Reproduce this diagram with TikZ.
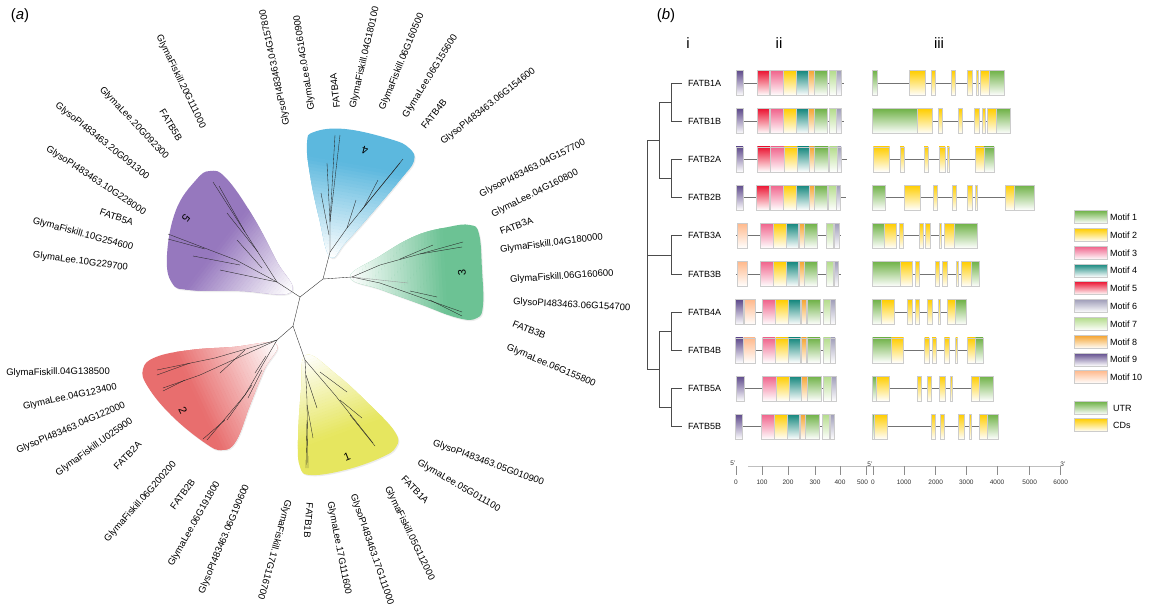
\documentclass[tikz,border=0pt]{standalone}
\usepackage{fontspec}
\setmainfont{Liberation Sans}
\usetikzlibrary{shadows}
\definecolor{m1}{RGB}{112,178,72}
\definecolor{m2}{RGB}{255,205,0}
\definecolor{m3}{RGB}{240,100,140}
\definecolor{m4}{RGB}{20,135,125}
\definecolor{m5}{RGB}{235,20,50}
\definecolor{m6}{RGB}{160,158,185}
\definecolor{m7}{RGB}{180,220,140}
\definecolor{m8}{RGB}{245,165,50}
\definecolor{m9}{RGB}{95,75,140}
\definecolor{m10}{RGB}{255,185,140}
\definecolor{cP}{RGB}{150,120,190}
\definecolor{cB}{RGB}{92,184,222}
\definecolor{cG}{RGB}{108,194,148}
\definecolor{cR}{RGB}{232,110,110}
\definecolor{cY}{RGB}{230,230,95}
\tikzset{
 lab/.style={font=\fontsize{9.5}{10}\selectfont, inner sep=0pt},
 labo/.style={lab, anchor=west},
 labi/.style={lab, anchor=east},
 br/.style={line width=0.35pt, black!85},
 clnum/.style={font=\fontsize{11}{12}\selectfont, inner sep=0pt},
 blob/.style={drop shadow={shadow xshift=1pt, shadow yshift=-1.2pt, opacity=0.15}},
 rtree/.style={line width=0.8pt, black!70},
 rowlab/.style={font=\fontsize{9}{10}\selectfont, anchor=west, inner sep=0pt},
 gline/.style={line width=0.7pt, black!55},
 leg/.style={font=\fontsize{9}{10}\selectfont, anchor=west, inner sep=0pt},
 ax/.style={font=\fontsize{6.5}{7}\selectfont, inner sep=0pt, text=black!80},
 head/.style={font=\fontsize{15}{16}\selectfont, inner sep=0pt},
 boxe/.style={draw=black!20, line width=0.5pt},
}
\newcommand\MotBox[4]{\shade[boxe, top color=#4, bottom color=white] (#1,#3-12.5) rectangle (#2,#3+12.5);}
% #1 colour, #2 apex, #3 outward angle, #4 fade length (pt), #5 outline points
\newcommand\CladeBlob[5]{%
 \fill[blob, #1] plot[smooth cycle, tension=0.7] coordinates {#5};
 \begin{scope}
  \clip plot[smooth cycle, tension=0.7] coordinates {#5};
  \begin{scope}[shift={#2}, rotate=#3-90]
   \fill[white] ({-250pt},{-60pt}) rectangle ({250pt},{0pt});
   \foreach \i in {0,...,29} {
     \pgfmathsetmacro\pc{100*((\i+0.5)/30)}
     \fill[#1!\pc!white] ({-250pt},{\i*#4/30*1pt}) rectangle ({250pt},{(\i+1)*#4/30*1pt+0.4pt});
   }
  \end{scope}
 \end{scope}}
\begin{document}
\begin{tikzpicture}[x=1pt,y=-1pt]
\useasboundingbox (0,0) rectangle (1157,614);
\fill[white] (0,0) rectangle (1157,614);

% ---------------- (a) radial tree ----------------
\node[head] (ha) at (20,16) {(\textit{a})};

\CladeBlob{cP}{(291,292)}{142}{85}{(291,292) (240,291) (190,290) (172,283) (167,255) (176,210) (196,180) (210,171) (226,178) (252,215) (276,260)}
\CladeBlob{cB}{(330,257)}{80}{95}{(330,257) (319,218) (310,175) (307,143) (314,132) (345,129) (390,139) (409,148) (414,161) (400,180) (372,213) (346,242)}
\CladeBlob{cG}{(350,277)}{3}{95}{(350,277) (380,256) (415,236) (448,227) (470,225) (479,234) (482,270) (483,305) (477,318) (458,318) (420,304) (382,290)}
\CladeBlob{cR}{(276,344)}{205}{95}{(276,344) (232,347) (190,350) (156,357) (143,369) (148,387) (172,416) (205,443) (222,450) (236,441) (250,405) (264,370)}
\CladeBlob{cY}{(306,355)}{-70}{85}{(306,355) (301,390) (298,440) (300,467) (311,475) (345,470) (380,458) (396,447) (395,432) (370,405) (336,374)}

\coordinate (c0) at (300,297);
\coordinate (c1) at (293,326);
\coordinate (c2) at (323,279);
\coordinate (b5) at (277,282);
\coordinate (b4) at (330,252);
\coordinate (b3) at (352,277);
\coordinate (b2) at (277,340);
\coordinate (b1) at (305,360);
\draw[br] (c0) -- (c1);
\draw[br] (c0) -- (b5);
\draw[br] (c0) -- (c2);
\draw[br] (c2) -- (b4);
\draw[br] (c2) -- (b3);
\draw[br] (c1) -- (b2);
\draw[br] (c1) -- (b1);
% clade 5
\draw[br] (b5) -- (245,232) -- (213,182);
\draw[br] (245,232) -- (219,186);
\draw[br] (258,252) -- (227,213);
\draw[br] (b5) -- (236,260) -- (168,234);
\draw[br] (205,249) -- (168,239);
\draw[br] (240,265) -- (193,256);
\draw[br] (b5) -- (220,270);
\draw[br] (262,268) -- (237,240);
% clade 4
\draw[br] (b4) -- (330,222) -- (335,135);
\draw[br] (330,222) -- (340,135);
\draw[br] (330,222) -- (327,163);
\draw[br] (329,235) -- (321,193);
\draw[br] (b4) -- (347,228) -- (403,159);
\draw[br] (360,212) -- (400,163);
\draw[br] (364,207) -- (378,180);
\draw[br] (347,228) -- (356,200);
% clade 3
\draw[br] (b3) -- (380,265) -- (463,242);
\draw[br] (420,254) -- (462,247);
\draw[br] (400,259) -- (433,245);
\draw[br] (b3) -- (380,283) -- (462,312);
\draw[br] (430,300) -- (462,316);
\draw[br] (410,291) -- (437,297);
\draw[br, black!40] (b3) -- (408,283);
% clade 2
\draw[br] (b2) -- (215,358) -- (157,370);
\draw[br] (190,363) -- (157,375);
\draw[br] (b2) -- (200,375) -- (163,388);
\draw[br] (185,380) -- (163,391);
\draw[br] (245,350) -- (220,373);
\draw[br] (b2) -- (245,395) -- (207,440);
\draw[br] (225,420) -- (203,439);
\draw[br] (252,385) -- (227,420);
\draw[br] (262,370) -- (248,398);
\draw[br] (266,356) -- (255,373);
% clade 1
\draw[br] (b1) -- (307,400) -- (308,468);
\draw[br] (307,420) -- (306,468);
\draw[br] (306,375) -- (317,408);
\draw[br] (307,405) -- (313,438);
\draw[br] (b1) -- (335,395) -- (373,443);
\draw[br] (350,415) -- (375,446);
\draw[br] (340,400) -- (362,418);
\draw[br] (320,372) -- (347,392);

\node[clnum, rotate=-128] (n5) at (186,218) {5};
\node[clnum, rotate=165] (n4) at (365,150) {4};
\node[clnum, rotate=93] (n3) at (462,273) {3};
\node[clnum, rotate=-63] (n2) at (183,410) {2};
\node[clnum, rotate=22] (n1) at (347,457) {1};

% clade 5 labels
\node[labi, rotate=-64.2] (l1) at (203,128) {GlymaFiskill.20G111000};
\node[labi, rotate=-58.8] (l2) at (180,140) {FATB5B};
\node[labi, rotate=-46.6] (l3) at (167,158) {GlymaLee.20G092300};
\node[labi, rotate=-38.7] (l4) at (148,178) {GlysoPI483463.20G091300};
\node[labi, rotate=-33.4] (l5) at (145,213) {GlysoPI483463.10G228000};
\node[labi, rotate=-19.5] (l6) at (133,223) {FATB5A};
\node[labi, rotate=-15.2] (l7) at (133,248) {GlymaFiskill.10G254600};
\node[labi, rotate=-7.6] (l8) at (128,268) {GlymaLee.10G229700};
% clade 4 labels
\node[labo, rotate=101.8] (l9) at (287,125) {GlysoPI483463.04G157800};
\node[labo, rotate=99] (l10) at (312,110) {GlymaLee.04G160900};
\node[labo, rotate=96.5] (l11) at (337,108) {FATB4A};
\node[labo, rotate=76.9] (l12) at (353,108) {GlymaFiskill.04G180100};
\node[labo, rotate=67.6] (l13) at (382,110) {GlymaFiskill.06G160500};
\node[labo, rotate=58.2] (l14) at (405,117) {GlymaLee.06G155600};
\node[labo, rotate=51.3] (l15) at (423,128) {FATB4B};
\node[labo, rotate=38.3] (l16) at (442,143) {GlysoPI483463.06G154600};
% clade 3 labels
\node[labo, rotate=26.8] (l17) at (480,195) {GlysoPI483463.04G157700};
\node[labo, rotate=26.6] (l18) at (492,215) {GlymaLee.04G160800};
\node[labo, rotate=20.6] (l19) at (500,232) {FATB3A};
\node[labo, rotate=7.1] (l20) at (500,250) {GlymaFiskill.04G180000};
\node[labo, rotate=3.7] (l21) at (510,280) {GlymaFiskill.06G160600};
\node[labo, rotate=-3] (l22) at (513,302) {GlysoPI483463.06G154700};
\node[labo, rotate=-22.4] (l23) at (513,323) {FATB3B};
\node[labo, rotate=-23.2] (l24) at (507,347) {GlymaLee.06G155800};
% clade 1 labels
\node[labo, rotate=-20] (l25) at (433,443) {GlysoPI483463.05G010900};
\node[labo, rotate=-30.4] (l26) at (418,462) {GlymaLee.05G011100};
\node[labo, rotate=-46] (l27) at (403,477) {FATB1A};
\node[labo, rotate=-64.2] (l28) at (387,487) {GlymaFiskill.05G112000};
\node[labo, rotate=-71] (l29) at (353,495) {GlysoPI483463.17G111000};
\node[labo, rotate=-79] (l30) at (330,502) {GlymaLee.17G111600};
\node[labo, rotate=-95] (l31) at (310,503) {FATB1B};
\node[labo, rotate=-105.6] (l32) at (288,500) {GlymaFiskill.17G116700};
% clade 2 labels
\node[labi, rotate=67.2] (l33) at (247,485) {GlysoPI483463.06G190600};
\node[labi, rotate=60.5] (l34) at (218,482) {GlymaLee.06G191800};
\node[labi, rotate=53.5] (l35) at (193,480) {FATB2B};
\node[labi, rotate=48.5] (l36) at (175,463) {GlymaFiskill.06G200200};
\node[labi, rotate=45] (l37) at (140,443) {FATB2A};
\node[labi, rotate=35.8] (l38) at (132,420) {GlymaFiskill.U025900};
\node[labi, rotate=23.2] (l39) at (125,405) {GlysoPI483463.04G122000};
\node[labi, rotate=12.2] (l40) at (117,387) {GlymaLee.04G123400};
\node[labi, rotate=0.5] (l41) at (110,372) {GlymaFiskill.04G138500};

% ---------------- (b) ----------------
\node[head] (hb) at (666,16) {(\textit{b})};
\node[head] (hi) at (688,43) {i};
\node[head] (hii) at (779,43) {ii};
\node[head] (hiii) at (939,43) {iii};

% row tree
\draw[rtree] (682,83) -- (671,83) -- (671,121.2) -- (682,121.2);
\draw[rtree] (682,159.4) -- (671,159.4) -- (671,197.6) -- (682,197.6);
\draw[rtree] (671,102) -- (659,102) -- (659,178.5) -- (671,178.5);
\draw[rtree] (682,235.8) -- (671,235.8) -- (671,274) -- (682,274);
\draw[rtree] (682,312.2) -- (671,312.2) -- (671,350.4) -- (682,350.4);
\draw[rtree] (682,388.6) -- (671,388.6) -- (671,426.8) -- (682,426.8);
\draw[rtree] (671,331.3) -- (659,331.3) -- (659,407.7) -- (671,407.7);
\draw[rtree] (659,140) -- (647,140) -- (647,369.5) -- (659,369.5);
\draw[rtree] (647,255) -- (671,255);

\node[rowlab] (r1) at (688,83) {FATB1A};
\node[rowlab] (r2) at (688,121.2) {FATB1B};
\node[rowlab] (r3) at (688,159.4) {FATB2A};
\node[rowlab] (r4) at (688,197.6) {FATB2B};
\node[rowlab] (r5) at (688,235.8) {FATB3A};
\node[rowlab] (r6) at (688,274) {FATB3B};
\node[rowlab] (r7) at (688,312.2) {FATB4A};
\node[rowlab] (r8) at (688,350.4) {FATB4B};
\node[rowlab] (r9) at (688,388.6) {FATB5A};
\node[rowlab] (r10) at (688,426.8) {FATB5B};

% motifs (ii)
\draw[gline] (736,83) -- (844,83);
\foreach \a/\b/\c in {736/743/m9,757/769.3/m5,770/783.3/m3,783.3/796.7/m2,796.7/808.3/m4,808.3/814/m8,814/827.7/m1,829/836/m7,836.7/841/m6} {\MotBox{\a}{\b}{83}{\c}}
\draw[gline] (736,121.2) -- (844,121.2);
\foreach \a/\b/\c in {736/743/m9,757/769.3/m5,770/783.3/m3,783.3/796.7/m2,796.7/808.3/m4,808.3/814/m8,814/827.7/m1,829/836/m7,836.7/841/m6} {\MotBox{\a}{\b}{121.2}{\c}}
\draw[gline] (736,159.4) -- (847,159.4);
\foreach \a/\b/\c in {736/743/m9,757.3/770/m5,770.7/784/m3,784/797.3/m2,797.3/809.3/m4,809.3/814.3/m8,814.3/828.3/m1,829.3/837.3/m7,837.3/841/m6} {\MotBox{\a}{\b}{159.4}{\c}}
\draw[gline] (736,197.6) -- (846,197.6);
\foreach \a/\b/\c in {736/743/m9,756.7/769.3/m5,770/783.3/m3,783.3/796.7/m2,796.7/809/m4,809/814/m8,814/827.3/m1,828.7/836/m7,836.7/840.7/m6} {\MotBox{\a}{\b}{197.6}{\c}}
\draw[gline] (736,235.8) -- (841,235.8);
\foreach \a/\b/\c in {737.3/747.7/m10,760/773.3/m3,773.3/786.7/m2,786.7/798.3/m4,799/804/m8,804.7/817.3/m1,826/833.3/m7,834.7/839/m6} {\MotBox{\a}{\b}{235.8}{\c}}
\draw[gline] (736,274) -- (841,274);
\foreach \a/\b/\c in {737.3/747.7/m10,760/773.3/m3,773.3/786.7/m2,786.7/798.3/m4,799/804/m8,804.7/817.3/m1,826/833.3/m7,834/838.3/m6} {\MotBox{\a}{\b}{274}{\c}}
\draw[gline] (736,312.2) -- (836,312.2);
\foreach \a/\b/\c in {735.7/743.3/m9,744/755/m10,762/775/m3,775/788.3/m2,788.3/800.7/m4,801.3/806.7/m8,807.3/820/m1,823.3/830/m7,830.7/835/m6} {\MotBox{\a}{\b}{312.2}{\c}}
\draw[gline] (736,350.4) -- (836,350.4);
\foreach \a/\b/\c in {735.7/743/m9,743.7/755/m10,762.7/775/m3,775.7/788.3/m2,788.3/800.7/m4,801.3/806.7/m8,807.3/820/m1,823.3/830.7/m7,830.7/835/m6} {\MotBox{\a}{\b}{350.4}{\c}}
\draw[gline] (736,388.6) -- (837,388.6);
\foreach \a/\b/\c in {736.7/744/m9,762.7/776/m3,776/789.3/m2,789.3/801/m4,801.7/807.3/m8,807.7/821/m1,823.3/831/m7,831.7/836/m6} {\MotBox{\a}{\b}{388.6}{\c}}
\draw[gline] (736,426.8) -- (834,426.8);
\foreach \a/\b/\c in {735.7/742.7/m9,761/774.3/m3,774.3/787.7/m2,787.7/799.3/m4,800/805.7/m8,805.7/819/m1,822/829.3/m7,830/834/m6} {\MotBox{\a}{\b}{426.8}{\c}}

% gene structures (iii)
\draw[gline] (877,83) -- (1004,83);
\foreach \a/\b/\c in {872.7/877.7/m1,909.3/925.7/m2,931/935/m2,951/955/m2,967/972.7/m2,976/978/m2,980/989.3/m2,989.3/1004.3/m1} {\MotBox{\a}{\b}{83}{\c}}
\draw[gline] (873,121.2) -- (1011,121.2);
\foreach \a/\b/\c in {872.7/917.7/m1,917.7/932.7/m2,938/942.7/m2,958.3/962/m2,974/979.7/m2,982.7/985.3/m2,987.3/996/m2,996/1010/m1} {\MotBox{\a}{\b}{121.2}{\c}}
\draw[gline] (873,159.4) -- (995,159.4);
\foreach \a/\b/\c in {873.3/889.7/m2,900/904/m2,924/928/m2,939/945/m2,947/949.3/m2,975/984/m2,984/994/m1} {\MotBox{\a}{\b}{159.4}{\c}}
\draw[gline] (873,197.6) -- (1034,197.6);
\foreach \a/\b/\c in {872.7/885.3/m1,904.3/920.3/m2,933/937.3/m2,952/956/m2,967/972.7/m2,975/977.7/m2,1005.3/1014.3/m2,1014.3/1034.7/m1} {\MotBox{\a}{\b}{197.6}{\c}}
\draw[gline] (873,235.8) -- (977,235.8);
\foreach \a/\b/\c in {872.7/884.3/m1,884.3/896.3/m2,899/903.3/m2,919/923/m2,925.3/930.7/m2,939/941.3/m2,944.3/954.3/m2,954.3/977.3/m1} {\MotBox{\a}{\b}{235.8}{\c}}
\draw[gline] (873,274) -- (980,274);
\foreach \a/\b/\c in {872.7/900.7/m1,900.7/912.3/m2,915/919.7/m2,935.3/939.3/m2,942/947.7/m2,956/958.7/m2,961/971/m2,971/979.3/m1} {\MotBox{\a}{\b}{274}{\c}}
\draw[gline] (873,312.2) -- (967,312.2);
\foreach \a/\b/\c in {872.7/881.7/m1,881.7/894.3/m2,907.7/912.3/m2,915.3/919.7/m2,927/932.7/m2,938/940.3/m2,947.3/955.7/m2,955.7/966.7/m1} {\MotBox{\a}{\b}{312.2}{\c}}
\draw[gline] (873,350.4) -- (984,350.4);
\foreach \a/\b/\c in {872.7/891.7/m1,891.7/903.7/m2,924.7/929/m2,932/936/m2,944.3/949.7/m2,955.7/957.7/m2,967.3/975.3/m2,975.3/983/m1} {\MotBox{\a}{\b}{350.4}{\c}}
\draw[gline] (873,388.6) -- (994,388.6);
\foreach \a/\b/\c in {872.7/876/m1,876/889.3/m2,917/921.3/m2,927/931/m2,939.3/945/m2,950/952/m2,971.3/979.3/m2,979.3/993/m1} {\MotBox{\a}{\b}{388.6}{\c}}
\draw[gline] (873,426.8) -- (999,426.8);
\foreach \a/\b/\c in {872.7/874.7/m1,874.7/887/m2,931/935/m2,940.3/944.3/m2,958.3/964/m2,969/971.3/m2,979/987.3/m2,987.3/998.7/m1} {\MotBox{\a}{\b}{426.8}{\c}}

% legend
\foreach \k/\y in {1/217,2/235,3/253,4/270.5,5/288,6/306,7/324,8/342,9/359.5,10/377} {
  \shade[boxe, top color=m\k, bottom color=white] (1074,\y-6.5) rectangle (1107,\y+6.5);
  \node[leg] at (1110,\y) {Motif \k};
}
\shade[boxe, top color=m1, bottom color=white] (1074,408-6.5) rectangle (1107,408+6.5);
\node[leg] (lutr) at (1113,408) {UTR};
\shade[boxe, top color=m2, bottom color=white] (1074,425-6.5) rectangle (1107,425+6.5);
\node[leg] (lcds) at (1113,425) {CDs};

% scale axis
\draw[line width=0.5pt, black!25] (748,466) -- (1060,466);
\foreach \x in {736,762,788,815,840,866,873,904,935.7,966.3,997,1029.7,1060.7} {\draw[line width=0.6pt, black!45] (\x,466) -- (\x,475);}
\node[ax] (s5a) at (733,463) {5'};
\node[ax] (s5b) at (870,464) {5'};
\node[ax] (s3) at (1063,464) {3'};
\foreach \x/\t in {736/0,762/100,788/200,815/300,840/400,862.5/500,873/0,904/1000,935.7/2000,966.3/3000,997/4000,1029.7/5000,1060.7/6000} {\node[ax] at (\x,482) {\t};}
\end{tikzpicture}
\end{document}
